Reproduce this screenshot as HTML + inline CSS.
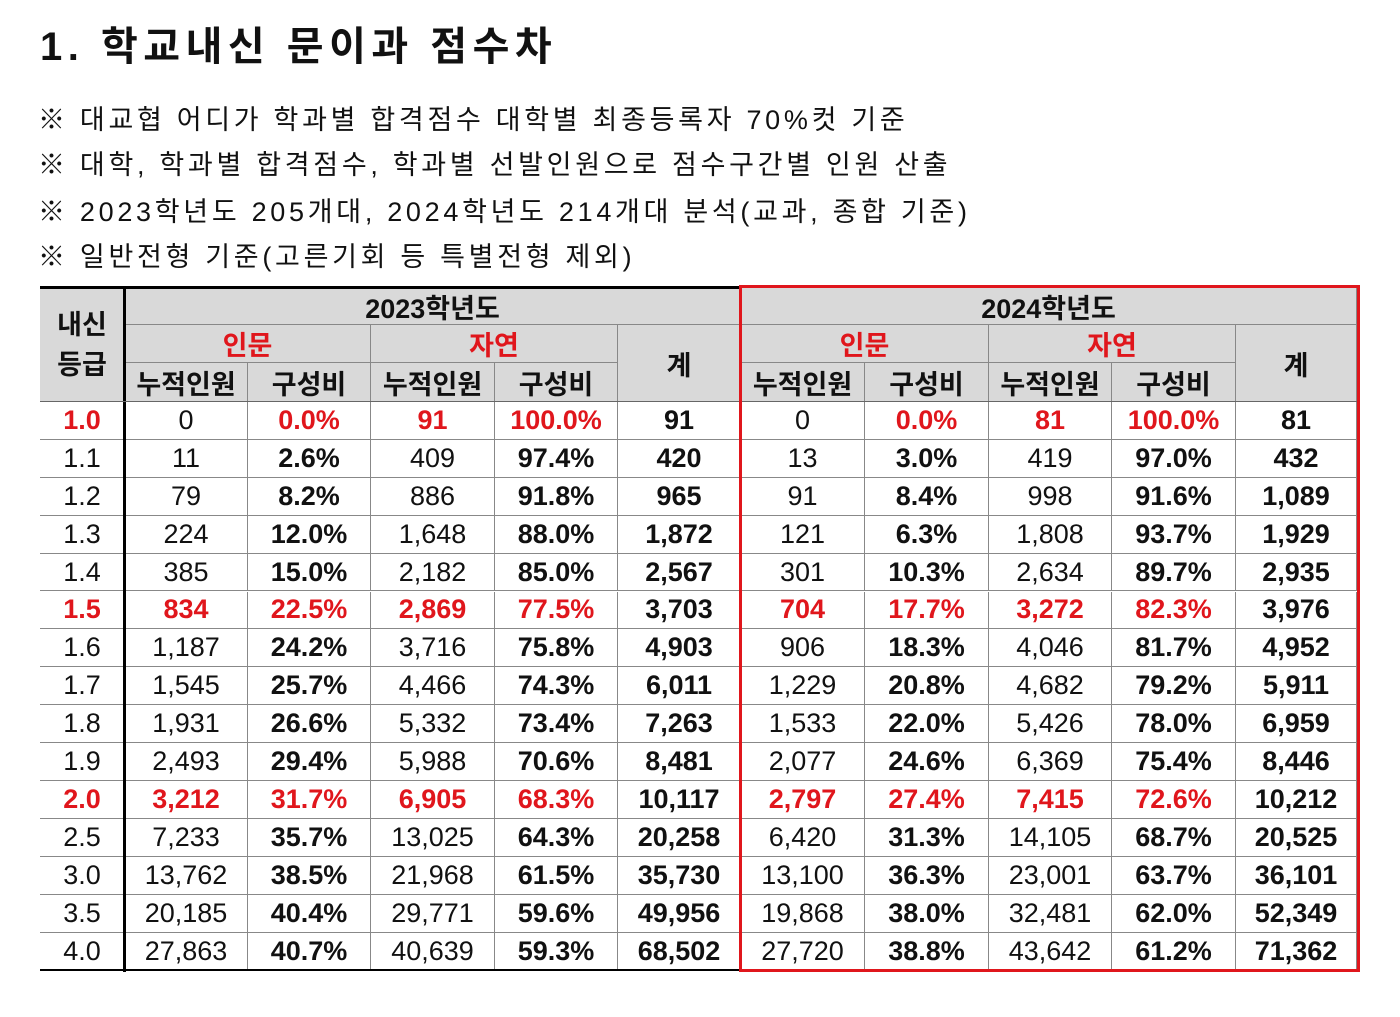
<!DOCTYPE html>
<html><head><meta charset="utf-8">
<style>
body{margin:0;width:1400px;height:1017px;background:#fff;position:relative;overflow:hidden;font-family:"Liberation Sans","Noto Sans CJK KR",sans-serif;color:#111}
.t{position:absolute;left:40px;top:14px;font-size:40px;font-weight:bold;letter-spacing:5.5px}
.n{position:absolute;left:38px;font-size:27px;letter-spacing:3.7px}
.c{position:absolute;box-sizing:border-box;display:flex;align-items:center;justify-content:center;font-size:27px;white-space:nowrap}
.h{background:#d9d9d9;font-weight:bold}
.b{font-weight:bold}.r{color:#e0161c}
.ln{position:absolute}
</style></head><body>
<div class="t">1. 학교내신 문이과 점수차</div>
<div class="n" style="top:98px">※ 대교협 어디가 학과별 합격점수 대학별 최종등록자 70%컷 기준</div>
<div class="n" style="top:143px">※ 대학, 학과별 합격점수, 학과별 선발인원으로 점수구간별 인원 산출</div>
<div class="n" style="top:190px">※ 2023학년도 205개대, 2024학년도 214개대 분석(교과, 종합 기준)</div>
<div class="n" style="top:235px">※ 일반전형 기준(고른기회 등 특별전형 제외)</div>
<div id="tbl"></div>
<script>
const grades=["1.0","1.1","1.2","1.3","1.4","1.5","1.6","1.7","1.8","1.9","2.0","2.5","3.0","3.5","4.0"];
const hum23=["0","11","79","224","385","834","1,187","1,545","1,931","2,493","3,212","7,233","13,762","20,185","27,863"];
const humPct23=["0.0%","2.6%","8.2%","12.0%","15.0%","22.5%","24.2%","25.7%","26.6%","29.4%","31.7%","35.7%","38.5%","40.4%","40.7%"];
const nat23=["91","409","886","1,648","2,182","2,869","3,716","4,466","5,332","5,988","6,905","13,025","21,968","29,771","40,639"];
const natPct23=["100.0%","97.4%","91.8%","88.0%","85.0%","77.5%","75.8%","74.3%","73.4%","70.6%","68.3%","64.3%","61.5%","59.6%","59.3%"];
const tot23=["91","420","965","1,872","2,567","3,703","4,903","6,011","7,263","8,481","10,117","20,258","35,730","49,956","68,502"];
const hum24=["0","13","91","121","301","704","906","1,229","1,533","2,077","2,797","6,420","13,100","19,868","27,720"];
const humPct24=["0.0%","3.0%","8.4%","6.3%","10.3%","17.7%","18.3%","20.8%","22.0%","24.6%","27.4%","31.3%","36.3%","38.0%","38.8%"];
const nat24=["81","419","998","1,808","2,634","3,272","4,046","4,682","5,426","6,369","7,415","14,105","23,001","32,481","43,642"];
const natPct24=["100.0%","97.0%","91.6%","93.7%","89.7%","82.3%","81.7%","79.2%","78.0%","75.4%","72.6%","68.7%","63.7%","62.0%","61.2%"];
const tot24=["81","432","1,089","1,929","2,935","3,976","4,952","5,911","6,959","8,446","10,212","20,525","36,101","52,349","71,362"];
const X=[40,125,248,371,495,618,741,865,989,1112,1236,1357];
const HR=[288,325,363,402],RH=37.9;
const root=document.getElementById('tbl');
function cell(x1,x2,y1,y2,txt,cls,name){
 const d=document.createElement('div');
 d.className='c '+(cls||'');
 d.style.left=x1+'px';d.style.top=y1+'px';d.style.width=(x2-x1)+'px';d.style.height=(y2-y1)+'px';
 d.style.borderRight='1px solid #888';d.style.borderBottom='1px solid #888';
 d.textContent=txt;
 
 
 root.appendChild(d);return d;
}
cell(X[0],X[1],HR[0],HR[3],'','h','grade-header').innerHTML='<span style="line-height:40px;text-align:center">내신<br>등급</span>';
[[0,'2023'],[1,'2024']].forEach(([k,yr])=>{
 const o=k*5;
 cell(X[1+o],X[6+o],HR[0],HR[1],yr+'학년도','h','year-header-'+yr);
 cell(X[1+o],X[3+o],HR[1],HR[2],'인문','h r','humanities-header-'+yr);
 cell(X[3+o],X[5+o],HR[1],HR[2],'자연','h r','science-header-'+yr);
 cell(X[5+o],X[6+o],HR[1],HR[3],'계','h','total-header-'+yr);
 ['누적인원','구성비','누적인원','구성비'].forEach((s,i)=>cell(X[1+o+i],X[2+o+i],HR[2],HR[3],s,'h','subheader-'+yr+'-'+i));
});
const hl=["1.0","1.5","2.0"];
grades.forEach((g,i)=>{
 const y1=HR[3]+i*RH,y2=HR[3]+(i+1)*RH;
 const red=hl.includes(g), five=g!=="1.0";
 cell(X[0],X[1],y1,y2,g,red?'b r':'','grade-'+g);
 const cols=[[hum23[i],0],[humPct23[i],1],[nat23[i],0],[natPct23[i],1],[tot23[i],2],[hum24[i],0],[humPct24[i],1],[nat24[i],0],[natPct24[i],1],[tot24[i],2]];
 cols.forEach(([v,t],j)=>{
  let cls='';
  if(t===1||t===2)cls='b';
  if(red&&t!==2){ if(t===1||five||j%5!==0) cls='b r'; }
  cell(X[j+1],X[j+2],y1,y2,v,cls,'cell-'+g+'-'+j);
 });
});
function line(x,y,w,h,c,name){const d=document.createElement('div');d.className='ln';d.style.cssText=`left:${x}px;top:${y}px;width:${w}px;height:${h}px;background:${c}`;root.appendChild(d);}
line(40,286,702,3,'#000','table-top-border');
line(123,286,3,686,'#000','grade-column-border');
line(40,969,702,2,'#000','table-bottom-border');
line(40,401,1318,1,'#666','header-bottom-border');
const rb=document.createElement('div');rb.style.cssText='position:absolute;left:739px;top:285px;width:621px;height:687px;box-sizing:border-box;border:3px solid #e0161c';


root.appendChild(rb);
</script>
</body></html>
